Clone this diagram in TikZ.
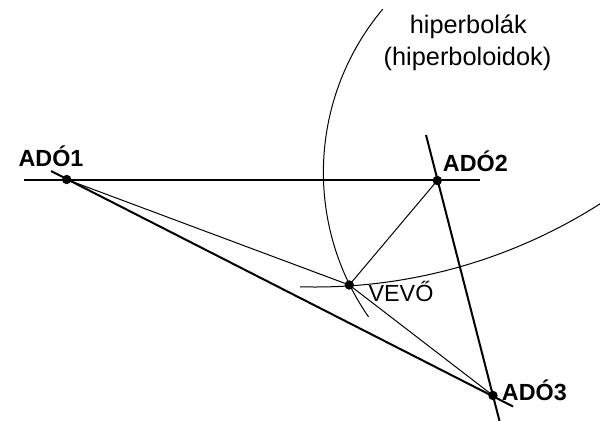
\documentclass[tikz,border=0pt]{standalone}
\usepackage{fontspec}
\setmainfont{Liberation Sans}
\begin{document}
\begin{tikzpicture}[x=0.75pt,y=0.75pt,yscale=-1,xscale=1,
  thickline/.style={line width=1.5pt},
  thinline/.style={line width=0.75pt},
  adolabel/.style={font=\bfseries\fontsize{17.5}{20}\selectfont, inner sep=0pt, anchor=base west},
  plainlabel/.style={font=\fontsize{17.5}{20}\selectfont, inner sep=0pt, anchor=base west},
  hyplabel/.style={font=\fontsize{19}{23}\selectfont, inner sep=0pt, anchor=base}]
\useasboundingbox (0,0) rectangle (600,421);

%Points
\coordinate (ado1) at (66.7,179.5);
\coordinate (ado2) at (437.3,180.5);
\coordinate (ado3) at (493,395.5);
\coordinate (vevo) at (349.3,285);
%Free ends of the lines
\coordinate (horL) at (24,179.5);
\coordinate (horR) at (480,179.5);
\coordinate (diagL) at (51,171);
\coordinate (diagR) at (513,406.5);
\coordinate (vertT) at (426,135);
\coordinate (vertB) at (499.5,421);
%Start of the hyperbolas
\coordinate (hypA) at (382.8,9.1);
\coordinate (hypB) at (300.2,286.8);

%Hyperbolas
\draw [thinline] (hypA) arc [start angle=220, end angle=145.3, radius=254] ;
\draw [thinline] (hypB) arc [start angle=91.6, end angle=57.4, radius=530] ;

%Straight Lines
\draw [thickline] (horL) -- (horR) ;
\draw [thickline] (diagL) -- (diagR) ;
\draw [thickline] (vertT) -- (vertB) ;
\draw [thinline] (ado1) -- (vevo) ;
\draw [thinline] (ado2) -- (vevo) ;
\draw [thinline] (vevo) -- (ado3) ;

%Dots
\foreach \p in {ado1,ado2,ado3,vevo}
  \fill (\p) circle [radius=4.7] ;

% Text Node
\node [adolabel] (ado1label) at (18.3,166) {ADÓ1};
% Text Node
\node [adolabel] (ado2label) at (442.7,171.7) {ADÓ2};
% Text Node
\node [adolabel] (ado3label) at (501.7,400.7) {ADÓ3};
% Text Node
\node [plainlabel] (vevolabel) at (368.3,301.7) {VEVŐ};
% Text Node
\node [hyplabel] (hyptext1) at (468.3,33.3) {hiperbolák};
% Text Node
\node [hyplabel] (hyptext2) at (467.5,65) {(hiperboloidok)};

\end{tikzpicture}
\end{document}
